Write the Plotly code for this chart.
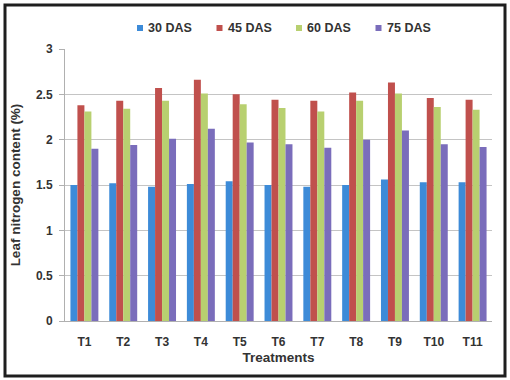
import plotly.graph_objects as go

treatments = ["T1", "T2", "T3", "T4", "T5", "T6", "T7", "T8", "T9", "T10", "T11"]
das_30 = [1.50, 1.52, 1.48, 1.51, 1.54, 1.50, 1.48, 1.50, 1.56, 1.53, 1.53]
das_45 = [2.38, 2.43, 2.57, 2.66, 2.50, 2.44, 2.43, 2.52, 2.63, 2.46, 2.44]
das_60 = [2.31, 2.34, 2.43, 2.51, 2.39, 2.35, 2.31, 2.43, 2.51, 2.36, 2.33]
das_75 = [1.90, 1.94, 2.01, 2.12, 1.97, 1.95, 1.91, 2.00, 2.10, 1.95, 1.92]

series = [
    ("30 DAS", das_30, "#3d8bd8"),
    ("45 DAS", das_45, "#c0504d"),
    ("60 DAS", das_60, "#b8d070"),
    ("75 DAS", das_75, "#7a6dbb"),
]

font_family = "Liberation Sans, Arial, sans-serif"
text_color = "#333333"

W, H = 510, 380
ML, MR, MT, MB = 65, 18, 49, 59
PW, PH = W - ML - MR, H - MT - MB


def px_to_paper(px, py):
    """Convert pixel position in the page to paper coordinates."""
    return (px - ML) / PW, (H - MB - py) / PH


fig = go.Figure()
for name, vals, color in series:
    fig.add_trace(go.Bar(
        x=treatments, y=vals, name=name, showlegend=False,
        marker=dict(color=color, line=dict(width=0)),
    ))

# Compact legend row: small square swatch followed by the series name
shapes = []
annotations = []
leg_x0, leg_step, leg_y = 140, 79.5, 28
for i, (name, _, color) in enumerate(series):
    cx = leg_x0 + i * leg_step
    x0, y0 = px_to_paper(cx - 3, leg_y + 3)
    x1, y1 = px_to_paper(cx + 3, leg_y - 3)
    shapes.append(dict(type="rect", xref="paper", yref="paper",
                       x0=x0, x1=x1, y0=y0, y1=y1,
                       fillcolor=color, line=dict(width=0)))
    tx, ty = px_to_paper(cx + 6, leg_y)
    annotations.append(dict(text=name, xref="paper", yref="paper", x=tx, y=ty,
                            xanchor="left", yanchor="middle", showarrow=False,
                            font=dict(size=12.5, weight="bold", color=text_color)))

# Outer frame
fx0, fy1 = px_to_paper(5, 5)
fx1, fy0 = px_to_paper(505, 376)
shapes.append(dict(type="rect", xref="paper", yref="paper",
                   x0=fx0, x1=fx1, y0=fy0, y1=fy1,
                   line=dict(color="#1e1e1e", width=3),
                   fillcolor="rgba(0,0,0,0)", layer="above"))

fig.update_layout(
    width=W, height=H,
    margin=dict(l=ML, r=MR, t=MT, b=MB),
    paper_bgcolor="white", plot_bgcolor="white",
    barmode="group", bargap=0.28, bargroupgap=0,
    font=dict(family=font_family, color=text_color),
    showlegend=False,
    xaxis=dict(
        showgrid=False, showline=True, linecolor="#b0b0b0", linewidth=1,
        ticks="", ticklabelstandoff=10,
        tickfont=dict(size=12, weight="bold", color=text_color),
        title=dict(text="Treatments", font=dict(size=13.5, weight="bold", color=text_color), standoff=4),
    ),
    yaxis=dict(
        range=[0, 3], dtick=0.5, showgrid=True, gridcolor="#c4c4c4", gridwidth=1,
        showline=True, linecolor="#b0b0b0", linewidth=1,
        ticks="outside", ticklen=5, tickcolor="#b0b0b0", ticklabelstandoff=4,
        tickfont=dict(size=12, weight="bold", color=text_color),
        zeroline=False,
        title=dict(text="Leaf nitrogen content (%)", font=dict(size=13.5, weight="bold", color=text_color), standoff=12),
    ),
    shapes=shapes,
    annotations=annotations,
)

fig.write_html("out.html")
